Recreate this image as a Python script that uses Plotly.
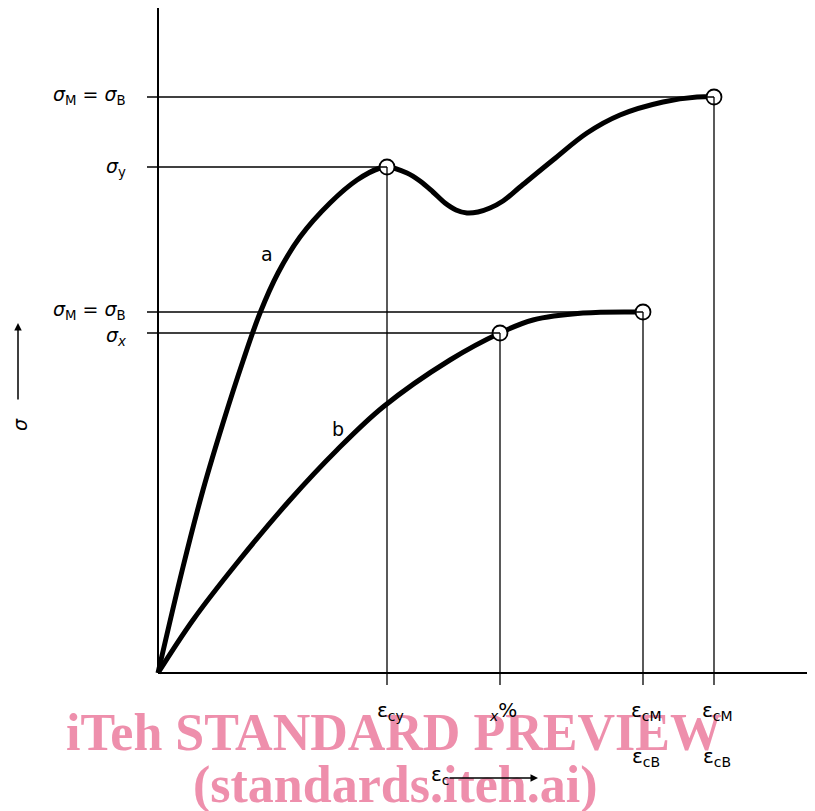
import plotly.graph_objects as go

# ---- data (arbitrary strain / stress units) ----
curve_a_x = [0, 25, 45, 65, 85, 102, 120, 142, 172, 199, 222, 229,
             249, 262, 275, 287, 298, 309, 320, 332, 345, 362, 395, 429, 462, 505, 539, 556]
curve_a_y = [0, 106, 183, 250, 312, 360, 400, 436, 470, 493, 505, 506,
             500, 492, 481, 470, 463, 460, 461, 465, 472, 486, 513, 540, 558, 571, 576, 576]
curve_b_x = [0, 35, 79, 132, 179, 225, 292, 342, 375, 425, 485]
curve_b_y = [0, 53, 110, 173, 223, 266, 313, 340, 353, 360, 361]

# characteristic points
points_x = [229, 556, 342, 485]
points_y = [506, 576, 340, 361]

# stress levels and their labels
stress_levels = [576, 506, 361, 340]
stress_ends = [556, 229, 485, 342]
stress_labels = ["<i>σ</i><sub>M</sub> = <i>σ</i><sub>B</sub>", "<i>σ</i><sub>y</sub>",
                 "<i>σ</i><sub>M</sub> = <i>σ</i><sub>B</sub>", "<i>σ</i><sub><i>x</i></sub>"]

# strain positions and labels
strain_pos = [229, 342, 485, 556]
strain_tops = [506, 340, 361, 576]
strain_labels = ["ε<sub>cy</sub>", "<sub><i>x</i></sub>%", "ε<sub>cM</sub>", "ε<sub>cM</sub>"]
strain_labels2 = ["", "", "ε<sub>cB</sub>", "ε<sub>cB</sub>"]

fig = go.Figure()

fig.add_trace(go.Scatter(x=curve_a_x, y=curve_a_y, mode="lines",
                         line=dict(color="black", width=5, shape="spline", smoothing=1.0),
                         hoverinfo="skip", showlegend=False))
fig.add_trace(go.Scatter(x=curve_b_x, y=curve_b_y, mode="lines",
                         line=dict(color="black", width=5, shape="spline", smoothing=1.0),
                         hoverinfo="skip", showlegend=False))

shapes = []
# axes
shapes.append(dict(type="line", x0=0, y0=0, x1=0, y1=690, line=dict(color="black", width=2)))
shapes.append(dict(type="line", x0=0, y0=0, x1=670, y1=0, line=dict(color="black", width=2)))
# horizontal guide lines
for lv, xe in zip(stress_levels, stress_ends):
    shapes.append(dict(type="line", x0=-11, y0=lv, x1=xe, y1=lv,
                       line=dict(color="black", width=1.3)))
# vertical guide lines
for xp, yt in zip(strain_pos, strain_tops):
    shapes.append(dict(type="line", x0=xp, y0=-12, x1=xp, y1=yt,
                       line=dict(color="black", width=1.3)))

fig.add_trace(go.Scatter(x=points_x, y=points_y, mode="markers",
                         marker=dict(size=15, color="white", line=dict(color="black", width=1.8)),
                         hoverinfo="skip", showlegend=False))

ann = []
# watermark first (drawn underneath the labels)
wm_font = dict(family="Liberation Serif", size=52, color="rgba(236,128,160,0.88)")
ann.append(dict(x=236, y=-59, text="<b>iTeh STANDARD PREVIEW</b>", showarrow=False,
                font=wm_font))
ann.append(dict(x=237, y=-112, text="<b>(standards.iteh.ai)</b>", showarrow=False,
                font=wm_font))

font_l = dict(family="DejaVu Sans", size=19, color="black")
font_t = dict(family="DejaVu Sans", size=20, color="black")
label_y = [578, 506, 363, 337]
for lv, txt in zip(label_y, stress_labels):
    ann.append(dict(x=-30, y=lv, text=txt, showarrow=False, xanchor="right",
                    yanchor="middle", font=font_l))
for xp, t1, t2 in zip(strain_pos, strain_labels, strain_labels2):
    ann.append(dict(x=xp + 3, y=-38, text=t1, showarrow=False, xanchor="center",
                    yanchor="middle", font=font_t))
    if t2:
        ann.append(dict(x=xp + 3, y=-84, text=t2, showarrow=False, xanchor="center",
                        yanchor="middle", font=font_t))

# curve labels
ann.append(dict(x=109, y=419, text="a", showarrow=False, font=font_l))
ann.append(dict(x=180, y=244, text="b", showarrow=False, font=font_l))

# axis titles with arrows
ann.append(dict(x=-138, y=248, text="<i>σ</i>", showarrow=False, textangle=-90, font=font_l))
ann.append(dict(x=-140, y=350, ax=-140, ay=272, axref="x", ayref="y", text="",
                showarrow=True, arrowhead=2, arrowsize=1, arrowwidth=1.5, arrowcolor="black"))
ann.append(dict(x=282, y=-102, text="ε<sub>c</sub>", showarrow=False, font=font_t))
ann.append(dict(x=380, y=-105, ax=290, ay=-105, axref="x", ayref="y", text="",
                showarrow=True, arrowhead=2, arrowsize=1, arrowwidth=1.5, arrowcolor="black"))

# page body has an 8px margin: shift ranges so the origin lands at pixel (158, 673)
fig.update_layout(
    width=815, height=811,
    margin=dict(l=0, r=0, t=0, b=0),
    paper_bgcolor="white", plot_bgcolor="white",
    shapes=shapes, annotations=ann,
    xaxis=dict(range=[-150, 665], visible=False, fixedrange=True),
    yaxis=dict(range=[-146, 665], visible=False, fixedrange=True),
    showlegend=False,
)

fig.write_html("out.html")
